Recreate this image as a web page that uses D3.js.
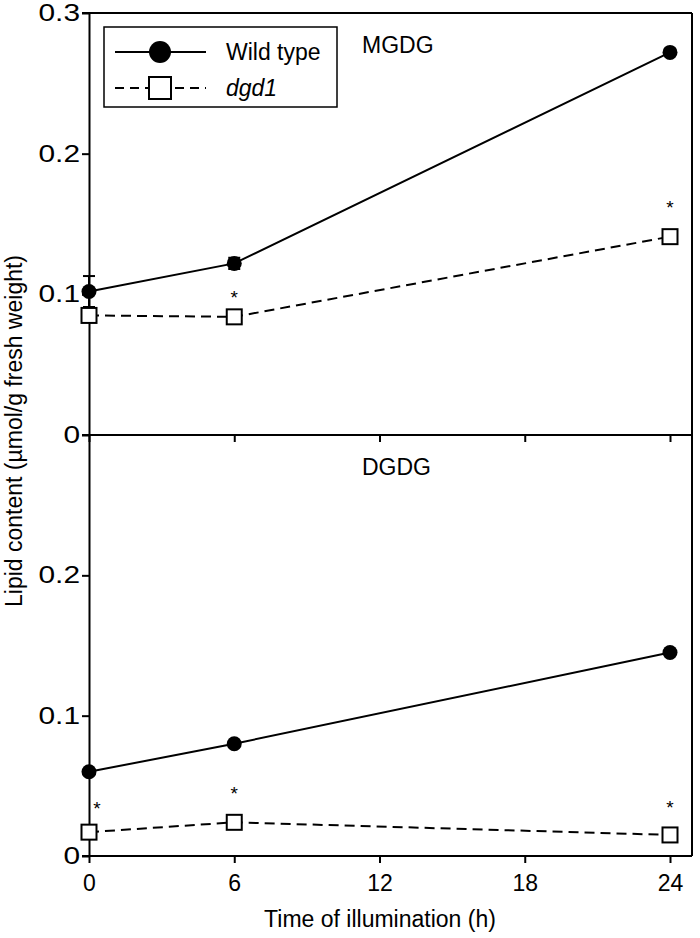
<!DOCTYPE html>
<html>
<head>
<meta charset="utf-8">
<script src="https://cdn.jsdelivr.net/npm/d3@7"></script>
<style>
  body { margin: 0; background: #fff; }
  svg text { font-family: "Liberation Sans", Arial, sans-serif; fill: #000; }
</style>
</head>
<body>
<div id="chart"></div>
<script>
// time points (h)
const times = [0, 6, 24];
const xTicks = [0, 6, 12, 18, 24];

// MGDG panel
const mgdgWT = [0.102, 0.122, 0.272];
const mgdgWTerr = [0.011, 0.004, 0.002];
const mgdgDgd = [0.085, 0.084, 0.141];
const mgdgStars = [[6, 0.101], [24, 0.165]];

// DGDG panel
const dgdgWT = [0.060, 0.080, 0.145];
const dgdgDgd = [0.017, 0.024, 0.015];
const dgdgStars = [[0.33, 0.037], [6, 0.048], [24, 0.038]];

const topTicks = [0, 0.1, 0.2, 0.3];
const botTicks = [0, 0.1, 0.2];

const W = 700, H = 938;
const plotLeft = 89, plotRight = 692, plotTop = 13, plotMid = 435, plotBottom = 856;

const svg = d3.select("#chart").append("svg")
  .attr("width", W).attr("height", H);

const x = d3.scaleLinear().domain([0, 24]).range([plotLeft, 670]);
const yTop = d3.scaleLinear().domain([0, 0.3]).range([plotMid, plotTop]);
const yBot = d3.scaleLinear().domain([0, 0.3]).range([plotBottom, plotMid]);

const fmt = d => d === 0 ? "0" : d3.format(".1f")(d);

function drawPanel(y, ticks, wt, wtErr, dgd, stars, label, labelY, showXLabels) {
  // y axis
  const ya = svg.append("g")
    .attr("transform", `translate(${plotLeft},0)`)
    .call(d3.axisLeft(y).tickValues(ticks).tickFormat(fmt).tickSize(7).tickPadding(3).tickSizeOuter(0));
  ya.select(".domain").attr("stroke-width", 2);
  ya.selectAll(".tick line").attr("stroke-width", 2);
  // labels in the original are drawn a bit wider than normal
  ya.selectAll(".tick text").attr("font-size", 23)
    .style("font-family", "Liberation Sans, Arial, sans-serif")
    .attr("x", -9 / 1.3)
    .attr("transform", "scale(1.3,1)");

  // x axis (bottom of panel)
  const xa = svg.append("g")
    .attr("transform", `translate(0,${y(0)})`)
    .call(d3.axisBottom(x).tickValues(xTicks).tickSize(7).tickPadding(12).tickSizeOuter(0));
  xa.select(".domain").remove();
  xa.selectAll(".tick line").attr("stroke-width", 2);
  if (showXLabels) {
    xa.selectAll(".tick text").attr("font-size", 23).style("font-family", "Liberation Sans, Arial, sans-serif");
  } else {
    xa.selectAll(".tick text").remove();
  }
  svg.append("line")
    .attr("x1", plotLeft - 7).attr("x2", plotRight)
    .attr("y1", y(0)).attr("y2", y(0))
    .attr("stroke", "#000").attr("stroke-width", 2);

  // error bars (wild type)
  if (wtErr) {
    const eb = svg.append("g");
    times.forEach((t, i) => {
      const e = wtErr[i];
      if (!e) return;
      const cx = x(t);
      eb.append("line").attr("x1", cx).attr("x2", cx)
        .attr("y1", y(wt[i] - e)).attr("y2", y(wt[i] + e))
        .attr("stroke", "#000").attr("stroke-width", 2);
      [wt[i] - e, wt[i] + e].forEach(v => {
        eb.append("line").attr("x1", cx - 6).attr("x2", cx + 6)
          .attr("y1", y(v)).attr("y2", y(v))
          .attr("stroke", "#000").attr("stroke-width", 2);
      });
    });
  }

  const line = d3.line().x((d, i) => x(times[i])).y(d => y(d));

  svg.append("path").datum(dgd)
    .attr("d", line).attr("fill", "none")
    .attr("stroke", "#000").attr("stroke-width", 2)
    .attr("stroke-dasharray", "10,6");
  svg.append("path").datum(wt)
    .attr("d", line).attr("fill", "none")
    .attr("stroke", "#000").attr("stroke-width", 2);

  svg.append("g").selectAll("circle").data(wt).join("circle")
    .attr("cx", (d, i) => x(times[i])).attr("cy", d => y(d))
    .attr("r", 7.5).attr("fill", "#000");

  svg.append("g").selectAll("rect").data(dgd).join("rect")
    .attr("x", (d, i) => x(times[i]) - 7.5).attr("y", d => y(d) - 7.5)
    .attr("width", 15).attr("height", 15)
    .attr("fill", "#fff").attr("stroke", "#000").attr("stroke-width", 2);

  svg.append("g").selectAll("text").data(stars).join("text")
    .attr("x", d => x(d[0])).attr("y", d => y(d[1]) + 11)
    .attr("text-anchor", "middle").attr("font-size", 19)
    .text("*");

  svg.append("text").attr("x", 362).attr("y", labelY)
    .attr("font-size", 23).text(label);
}

drawPanel(yTop, topTicks, mgdgWT, mgdgWTerr, mgdgDgd, mgdgStars, "MGDG", 53, false);
drawPanel(yBot, botTicks, dgdgWT, null, dgdgDgd, dgdgStars, "DGDG", 475, true);

// frame: top and right
svg.append("line").attr("x1", plotLeft - 7).attr("x2", plotRight).attr("y1", plotTop).attr("y2", plotTop)
  .attr("stroke", "#000").attr("stroke-width", 2);
svg.append("line").attr("x1", plotRight).attr("x2", plotRight).attr("y1", plotTop).attr("y2", plotBottom)
  .attr("stroke", "#000").attr("stroke-width", 2);

// legend
const lg = svg.append("g");
lg.append("rect").attr("x", 104).attr("y", 27).attr("width", 233).attr("height", 80)
  .attr("fill", "#fff").attr("stroke", "#000").attr("stroke-width", 1.5);
lg.append("line").attr("x1", 115).attr("x2", 206).attr("y1", 52).attr("y2", 52)
  .attr("stroke", "#000").attr("stroke-width", 2);
lg.append("circle").attr("cx", 160).attr("cy", 52).attr("r", 11).attr("fill", "#000");
lg.append("line").attr("x1", 115).attr("x2", 206).attr("y1", 88).attr("y2", 88)
  .attr("stroke", "#000").attr("stroke-width", 2).attr("stroke-dasharray", "9,6");
lg.append("rect").attr("x", 149).attr("y", 77).attr("width", 22).attr("height", 22)
  .attr("fill", "#fff").attr("stroke", "#000").attr("stroke-width", 2);
lg.append("text").attr("x", 226).attr("y", 60).attr("font-size", 23).text("Wild type");
lg.append("text").attr("x", 226).attr("y", 96).attr("font-size", 23)
  .attr("font-style", "italic").text("dgd1");

// axis titles
svg.append("text").attr("x", 380).attr("y", 927)
  .attr("text-anchor", "middle").attr("font-size", 23)
  .text("Time of illumination (h)");
svg.append("text")
  .attr("transform", `translate(22,${plotMid - 4}) rotate(-90)`)
  .attr("text-anchor", "middle").attr("font-size", 23)
  .text("Lipid content (µmol/g fresh weight)");
</script>
</body>
</html>
